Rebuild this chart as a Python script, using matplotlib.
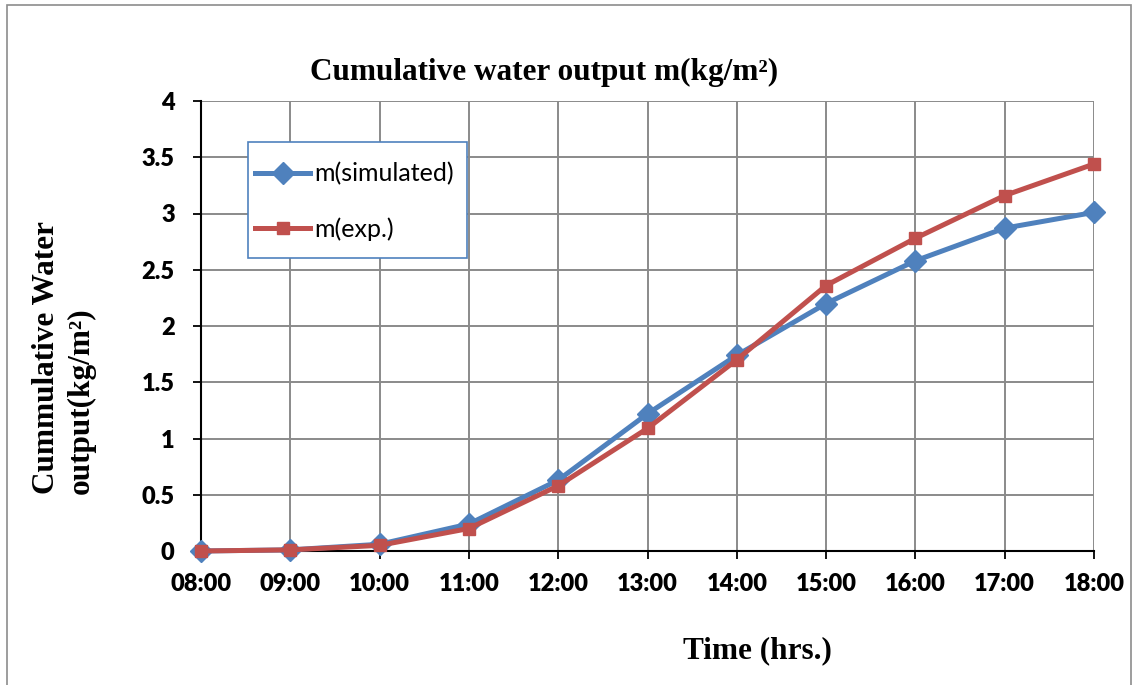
import matplotlib
matplotlib.use("Agg")
import matplotlib.pyplot as plt
from matplotlib.patches import Rectangle

times = ["08:00", "09:00", "10:00", "11:00", "12:00", "13:00",
         "14:00", "15:00", "16:00", "17:00", "18:00"]
m_simulated = [0.0, 0.01, 0.06, 0.24, 0.63, 1.22, 1.74, 2.20, 2.58, 2.87, 3.01]
m_exp = [0.0, 0.01, 0.05, 0.20, 0.58, 1.09, 1.70, 2.36, 2.78, 3.16, 3.44]
y_ticks = [0, 0.5, 1, 1.5, 2, 2.5, 3, 3.5, 4]
y_tick_labels = ["0", "0.5", "1", "1.5", "2", "2.5", "3", "3.5", "4"]

BLUE = "#4F81BD"
RED = "#C0504D"
GRID = "#8A8A8A"

W, H = 1139, 685
fig = plt.figure(figsize=(W / 100, H / 100), dpi=100)

# chart frame
fig.patches.append(Rectangle((7 / W, -0.01), (1131 - 7) / W, 1 - 5 / H + 0.01,
                             transform=fig.transFigure, fill=False,
                             edgecolor="#8C8C8C", linewidth=1.2))

AX_L, AX_R, AX_T, AX_B = 201, 1094, 101, 551
ax = fig.add_axes([AX_L / W, 1 - AX_B / H, (AX_R - AX_L) / W, (AX_B - AX_T) / H])
x = list(range(len(times)))


def ax_frac(px, py):
    """Pixel position in the figure -> axes fraction."""
    return (px - AX_L) / (AX_R - AX_L), (AX_B - py) / (AX_B - AX_T)


ax.plot(x, m_simulated, color=BLUE, lw=3.6, marker="D", ms=11.5,
        label="m(simulated)", clip_on=False, zorder=3)
ax.plot(x, m_exp, color=RED, lw=3.6, marker="s", ms=8.5,
        label="m(exp.)", clip_on=False, zorder=4)

ax.set_xlim(0, len(times) - 1)
ax.set_ylim(0, 4)
ax.set_xticks(x)
ax.set_xticklabels(times)
ax.set_yticks(y_ticks)
ax.set_yticklabels(y_tick_labels)

for lab in ax.get_xticklabels() + ax.get_yticklabels():
    lab.set_fontfamily("Lato")
    lab.set_fontweight("heavy")
    lab.set_fontsize(17)

ax.tick_params(axis="both", direction="out", length=6, width=1.3, color="black")
ax.tick_params(axis="x", pad=10)
ax.tick_params(axis="y", pad=13)

ax.grid(True, color=GRID, lw=1.4)
ax.set_axisbelow(True)
for side in ("top", "right"):
    ax.spines[side].set_visible(False)
for side in ("left", "bottom"):
    ax.spines[side].set_linewidth(1.5)
    ax.spines[side].set_color("black")
    ax.spines[side].set_zorder(2.5)

serif = "Liberation Serif"
fig.text(544 / W, 1 - 72 / H, "Cumulative water output m(kg/m²)",
         ha="center", va="center", fontsize=22.5, fontweight="bold",
         family=serif)
fig.text(757 / W, 1 - 651 / H, "Time (hrs.)", ha="center", va="center",
         fontsize=22.5, fontweight="bold", family=serif)
fig.text(64 / W, 1 - 494 / H, "Cummulative Water\noutput(kg/m²)",
         ha="center", va="bottom", rotation=90, multialignment="left",
         fontsize=22.5, fontweight="bold", family=serif, linespacing=1.25)

# legend box
bx0, by0 = ax_frac(248, 258)
bx1, by1 = ax_frac(467, 142)
ax.add_patch(Rectangle((bx0, by0), bx1 - bx0, by1 - by0, transform=ax.transAxes,
                       facecolor="white", edgecolor=BLUE, linewidth=1.2,
                       zorder=5, clip_on=False))
leg = ax.legend(loc="upper left", bbox_to_anchor=ax_frac(255, 162),
                borderaxespad=0, borderpad=0, frameon=False,
                labelspacing=1.28, handlelength=2.2, handletextpad=0.15,
                prop={"family": "Lato", "size": 18})
leg.set_zorder(6)

fig.savefig("out.png", dpi=100, facecolor="white")
